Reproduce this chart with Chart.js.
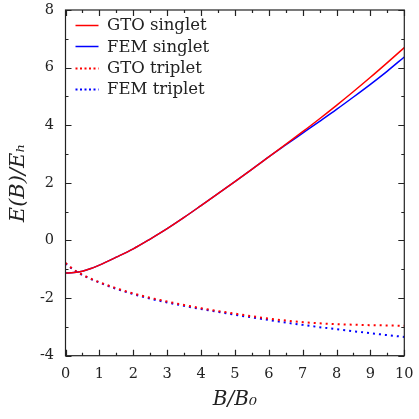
<!DOCTYPE html>
<html>
<head>
<meta charset="utf-8">
<script src="https://cdn.jsdelivr.net/npm/chart.js@4/dist/chart.umd.min.js"></script>
<style>
html,body{margin:0;padding:0;background:#fff;}
#wrap{width:419px;height:419px;}
</style>
</head>
<body>
<div id="wrap"><canvas id="c" width="419" height="419"></canvas></div>
<script>
const seriesNames = ['GTO singlet', 'FEM singlet', 'GTO triplet', 'FEM triplet'];
const bValues = [0, 0.25, 0.5, 0.75, 1, 1.5, 2, 2.5, 3, 3.5, 4, 4.5, 5, 5.5, 6, 6.5, 7, 7.5, 8, 8.5, 9, 9.5, 10];
const gtoSinglet = [-1.13, -1.115, -1.065, -0.975, -0.855, -0.58, -0.29, 0.05, 0.41, 0.80, 1.21, 1.625, 2.045, 2.47, 2.90, 3.335, 3.775, 4.225, 4.69, 5.17, 5.665, 6.175, 6.695];
const femSinglet = [-1.13, -1.115, -1.065, -0.975, -0.855, -0.58, -0.29, 0.05, 0.41, 0.80, 1.21, 1.625, 2.045, 2.47, 2.90, 3.315, 3.725, 4.135, 4.55, 4.98, 5.42, 5.88, 6.37];
const gtoTriplet = [-0.78, -1.02, -1.19, -1.33, -1.45, -1.66, -1.84, -1.99, -2.12, -2.24, -2.35, -2.45, -2.54, -2.63, -2.71, -2.78, -2.835, -2.875, -2.905, -2.925, -2.94, -2.95, -2.96];
const femTriplet = [-0.80, -1.03, -1.20, -1.34, -1.46, -1.68, -1.86, -2.02, -2.15, -2.27, -2.38, -2.48, -2.58, -2.67, -2.76, -2.85, -2.93, -3.01, -3.08, -3.15, -3.22, -3.285, -3.35];
const xTickLabels = [0, 1, 2, 3, 4, 5, 6, 7, 8, 9, 10];
const yTickLabels = [-4, -2, 0, 2, 4, 6, 8];

const FONT = "'DejaVu Serif', 'Liberation Serif', serif";
const TXT = '#222';

function pts(ys) { return bValues.map((b, i) => ({x: b, y: ys[i]})); }

const frameTicks = {
  id: 'frameTicks',
  afterDatasetsDraw(chart) {
    const {ctx, chartArea: a, scales: {x, y}} = chart;
    ctx.save();
    ctx.strokeStyle = TXT;
    ctx.lineWidth = 1.2;
    ctx.strokeRect(a.left, a.top, a.right - a.left, a.bottom - a.top);
    ctx.beginPath();
    for (let v = x.min; v <= x.max + 1e-9; v += 0.5) {
      const px = Math.round(x.getPixelForValue(v)) + 0.5;
      const len = Math.abs(v - Math.round(v)) < 1e-9 ? 6 : 3;
      ctx.moveTo(px, a.bottom); ctx.lineTo(px, a.bottom - len);
      ctx.moveTo(px, a.top); ctx.lineTo(px, a.top + len);
    }
    for (let v = y.min; v <= y.max + 1e-9; v += 1) {
      const py = Math.round(y.getPixelForValue(v)) + 0.5;
      const len = (Math.round(v) % 2 === 0) ? 6 : 3;
      ctx.moveTo(a.left, py); ctx.lineTo(a.left + len, py);
      ctx.moveTo(a.right, py); ctx.lineTo(a.right - len, py);
    }
    ctx.stroke();

    // legend inside the plot, top-left
    const rowH = 21.3;
    const x0 = a.left + 10, lineW = 23, textX = a.left + 41.5;
    ctx.font = '16.5px ' + FONT;
    ctx.textBaseline = 'middle';
    ctx.textAlign = 'left';
    chart.data.datasets.forEach((ds, i) => {
      const cy = a.top + 15 + i * rowH;
      ctx.save();
      ctx.strokeStyle = ds.borderColor;
      ctx.lineWidth = ds.borderWidth;
      ctx.setLineDash(ds.borderDash ? [2, 2.5] : []);
      ctx.beginPath();
      ctx.moveTo(x0, Math.round(cy) + 0.5);
      ctx.lineTo(x0 + lineW, Math.round(cy) + 0.5);
      ctx.stroke();
      ctx.restore();
      ctx.fillStyle = TXT;
      ctx.fillText(ds.label, textX, cy + 1);
    });
    ctx.restore();
  }
};

new Chart(document.getElementById('c'), {
  type: 'line',
  data: {
    datasets: [
      {label: seriesNames[0], data: pts(gtoSinglet), borderColor: '#ff0000', backgroundColor: '#ff0000', borderWidth: 1.5},
      {label: seriesNames[1], data: pts(femSinglet), borderColor: '#0000ff', backgroundColor: '#0000ff', borderWidth: 1.5},
      {label: seriesNames[2], data: pts(gtoTriplet), borderColor: '#ff0000', backgroundColor: '#ff0000', borderWidth: 2, borderDash: [2, 4]},
      {label: seriesNames[3], data: pts(femTriplet), borderColor: '#0000ff', backgroundColor: '#0000ff', borderWidth: 2, borderDash: [2, 4]}
    ]
  },
  options: {
    responsive: false,
    animation: false,
    devicePixelRatio: 1,
    layout: {padding: {top: 10, right: 14.7, left: 0, bottom: 0}},
    elements: {point: {radius: 0}, line: {cubicInterpolationMode: 'monotone', fill: false}},
    plugins: {
      legend: {display: false},
      tooltip: {enabled: false}
    },
    scales: {
      x: {
        type: 'linear',
        min: 0, max: 10,
        afterFit(s) { s.height = 63.3; s.paddingLeft = 0; s.paddingRight = 0; },
        afterBuildTicks(s) { s.ticks = xTickLabels.map(v => ({value: v})); },
        grid: {display: false},
        border: {display: false},
        ticks: {color: TXT, padding: 2, maxRotation: 0, autoSkip: false, font: {family: FONT, size: 14.5}},
        title: {display: true, text: 'B/B₀', color: TXT, font: {family: FONT, size: 20, style: 'italic'}, padding: {top: 0, bottom: 7}}
      },
      y: {
        type: 'linear',
        min: -4, max: 8,
        afterFit(s) { s.width = 65.5; s.paddingTop = 0; s.paddingBottom = 0; },
        afterBuildTicks(s) { s.ticks = yTickLabels.map(v => ({value: v})); },
        grid: {display: false},
        border: {display: false},
        ticks: {color: TXT, padding: 3.5, autoSkip: false, font: {family: FONT, size: 14.5}},
        title: {display: true, text: 'E(B)/Eₕ', color: TXT, font: {family: FONT, size: 21, style: 'italic'}, padding: {top: 6, bottom: 0}}
      }
    }
  },
  plugins: [frameTicks]
});
</script>
</body>
</html>
